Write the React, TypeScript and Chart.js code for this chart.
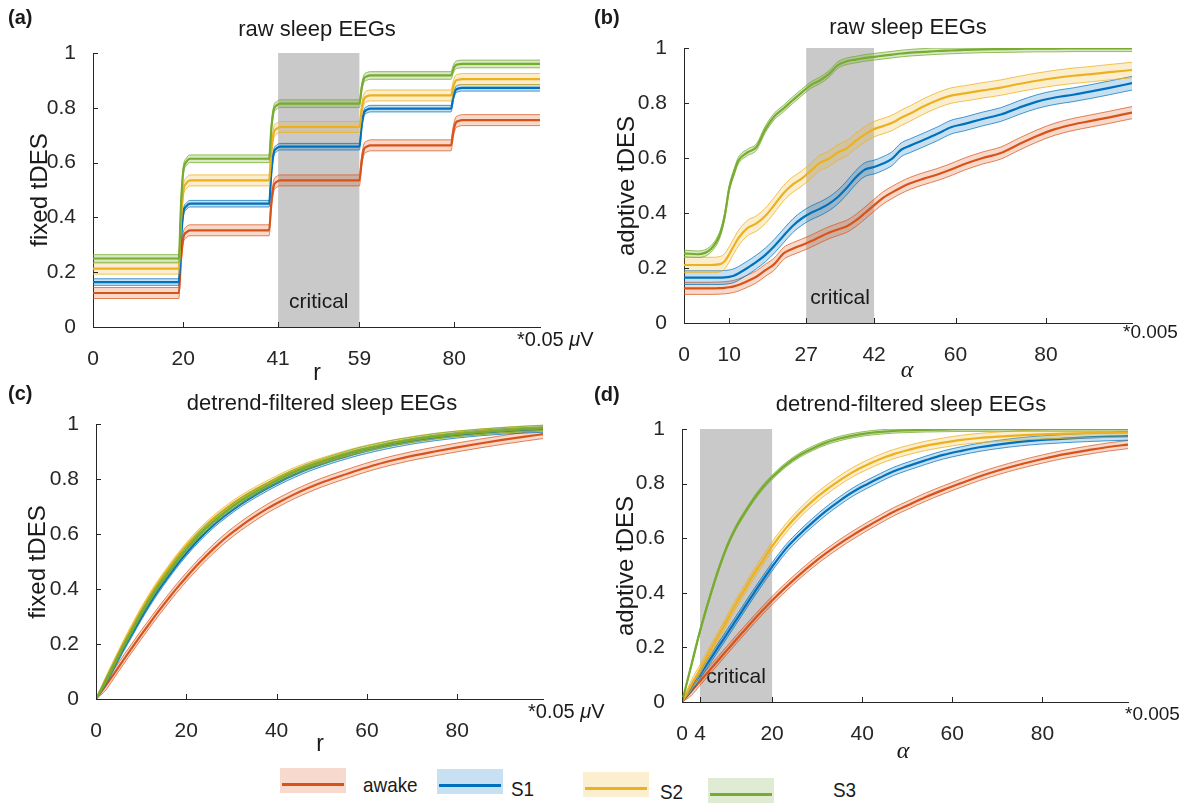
import React, { useEffect, useRef } from "react";
import { Chart, registerables } from "chart.js";

Chart.register(...registerables);

const FONT = '"Liberation Sans", Arial, Helvetica, sans-serif';
const SERIF = '"Liberation Serif", "Times New Roman", serif';
const AXIS_COLOR = "#262626";

const GROUP_NAMES = ["awake", "S1", "S2", "S3"];
const LINE_COLORS = ["#D95319", "#0072BD", "#EDB120", "#77AC30"];
const BAND_LINE_COLORS = ["rgba(217,83,25,0.8)", "rgba(0,114,189,0.8)", "rgba(237,177,32,0.85)", "rgba(119,172,48,0.85)"];
const FILL_COLORS = ["rgba(217,83,25,0.22)", "rgba(0,114,189,0.22)", "rgba(237,177,32,0.22)", "rgba(119,172,48,0.28)"];
const LEGEND_FILLS = ["#f7dacd", "#c8e1f2", "#fcefd0", "#dfebd2"];

const Y_TICKS = [0, 0.2, 0.4, 0.6, 0.8, 1];

// ---------- (a) raw sleep EEGs, fixed tDES vs r ----------
const A_X = [0, 19, 19.5, 20, 20.7, 21.5, 39, 39.5, 40, 40.7, 41.5, 59, 59.5, 60, 60.7, 61.5, 79.3, 79.8, 80.3, 81, 81.8, 99];
const A_AWAKE = [0.124, 0.124, 0.25, 0.326, 0.346, 0.353, 0.353, 0.453, 0.513, 0.53, 0.535, 0.535, 0.605, 0.648, 0.659, 0.663, 0.663, 0.714, 0.744, 0.752, 0.755, 0.755];
const A_S1 = [0.164, 0.164, 0.321, 0.416, 0.441, 0.45, 0.45, 0.564, 0.633, 0.652, 0.658, 0.658, 0.734, 0.78, 0.793, 0.797, 0.797, 0.839, 0.864, 0.871, 0.873, 0.873];
const A_S2 = [0.213, 0.213, 0.39, 0.496, 0.525, 0.535, 0.535, 0.642, 0.707, 0.724, 0.73, 0.73, 0.793, 0.831, 0.842, 0.845, 0.845, 0.878, 0.898, 0.903, 0.905, 0.905];
const A_S3 = [0.25, 0.25, 0.45, 0.57, 0.603, 0.614, 0.614, 0.725, 0.791, 0.809, 0.815, 0.815, 0.872, 0.906, 0.915, 0.918, 0.918, 0.941, 0.955, 0.959, 0.96, 0.96];
const A_BANDS = [0.02, 0.012, 0.02, 0.014];
const A_XTICKS = [0, 20, 41, 59, 80];
const A_CRITICAL = [41, 59];

// ---------- (b) raw sleep EEGs, adaptive tDES vs alpha ----------
const B_X = [0, 3, 6, 8, 9, 10, 11, 12, 14, 16, 18, 20, 22, 24, 26, 28, 30, 32, 34, 36, 38, 40, 42, 44, 46, 48, 50, 53, 56, 59, 62, 66, 70, 74, 78, 82, 86, 90, 94, 99];
const B_AWAKE = [0.126, 0.126, 0.126, 0.127, 0.128, 0.13, 0.133, 0.138, 0.152, 0.168, 0.192, 0.215, 0.253, 0.27, 0.283, 0.297, 0.313, 0.328, 0.34, 0.352, 0.373, 0.4, 0.428, 0.455, 0.475, 0.493, 0.508, 0.525, 0.54, 0.558, 0.578, 0.6, 0.618, 0.65, 0.68, 0.705, 0.722, 0.735, 0.748, 0.765];
const B_S1 = [0.165, 0.165, 0.165, 0.165, 0.166, 0.168, 0.172, 0.18, 0.2, 0.222, 0.248, 0.28, 0.317, 0.353, 0.38, 0.4, 0.415, 0.433, 0.458, 0.492, 0.53, 0.558, 0.567, 0.58, 0.598, 0.63, 0.645, 0.666, 0.688, 0.712, 0.724, 0.742, 0.758, 0.783, 0.805, 0.82, 0.83, 0.842, 0.855, 0.872];
const B_S2 = [0.211, 0.211, 0.211, 0.214, 0.225, 0.25, 0.28, 0.308, 0.345, 0.362, 0.39, 0.43, 0.472, 0.503, 0.525, 0.553, 0.582, 0.597, 0.62, 0.636, 0.663, 0.686, 0.705, 0.716, 0.728, 0.746, 0.762, 0.788, 0.81, 0.827, 0.835, 0.846, 0.856, 0.869, 0.881, 0.891, 0.899, 0.905, 0.912, 0.92];
const B_S3 = [0.253, 0.25, 0.27, 0.325, 0.39, 0.49, 0.545, 0.59, 0.62, 0.64, 0.705, 0.752, 0.78, 0.81, 0.838, 0.865, 0.882, 0.905, 0.938, 0.952, 0.958, 0.964, 0.968, 0.972, 0.976, 0.98, 0.983, 0.986, 0.989, 0.991, 0.993, 0.995, 0.996, 0.997, 0.998, 0.998, 0.999, 0.999, 0.999, 0.999];
const B_BANDS = [0.022, 0.025, 0.028, 0.012];
const B_XTICKS = [0, 10, 27, 42, 60, 80];
const B_CRITICAL = [27, 42];

// ---------- (c) detrend-filtered, fixed tDES vs r ----------
const C_X = [0, 2, 4, 6, 8, 10, 12, 14, 16, 18, 20, 23, 26, 29, 32, 35, 38, 41, 44, 47, 50, 54, 58, 62, 66, 70, 75, 80, 85, 90, 95, 99];
const C_AWAKE = [0, 0.045, 0.092, 0.14, 0.187, 0.233, 0.278, 0.322, 0.364, 0.405, 0.443, 0.497, 0.546, 0.59, 0.628, 0.662, 0.693, 0.72, 0.745, 0.767, 0.787, 0.81, 0.832, 0.852, 0.869, 0.884, 0.9, 0.915, 0.929, 0.942, 0.954, 0.963];
const C_S1 = [0, 0.057, 0.118, 0.18, 0.238, 0.296, 0.35, 0.4, 0.446, 0.49, 0.53, 0.585, 0.632, 0.672, 0.708, 0.739, 0.767, 0.793, 0.816, 0.837, 0.855, 0.876, 0.895, 0.911, 0.925, 0.937, 0.949, 0.959, 0.967, 0.973, 0.977, 0.98];
const C_S2 = [0, 0.065, 0.133, 0.2, 0.263, 0.323, 0.378, 0.428, 0.474, 0.518, 0.558, 0.612, 0.657, 0.696, 0.73, 0.759, 0.785, 0.81, 0.832, 0.851, 0.867, 0.887, 0.905, 0.92, 0.933, 0.944, 0.956, 0.965, 0.972, 0.978, 0.983, 0.986];
const C_S3 = [0, 0.06, 0.125, 0.19, 0.25, 0.31, 0.365, 0.415, 0.46, 0.505, 0.545, 0.6, 0.645, 0.685, 0.72, 0.75, 0.777, 0.803, 0.826, 0.846, 0.863, 0.884, 0.903, 0.918, 0.932, 0.943, 0.955, 0.964, 0.971, 0.977, 0.982, 0.985];
const C_BANDS = [0.016, 0.01, 0.01, 0.01];
const C_XTICKS = [0, 20, 40, 60, 80];

// ---------- (d) detrend-filtered, adaptive tDES vs alpha ----------
const D_X = [0, 2, 4, 6, 8, 10, 12, 14, 16, 18, 20, 23, 26, 29, 32, 35, 38, 41, 44, 47, 50, 54, 58, 62, 66, 70, 75, 80, 85, 90, 95, 99];
const D_AWAKE = [0, 0.038, 0.076, 0.114, 0.152, 0.19, 0.228, 0.265, 0.302, 0.338, 0.372, 0.42, 0.465, 0.507, 0.545, 0.58, 0.612, 0.642, 0.67, 0.697, 0.72, 0.75, 0.777, 0.802, 0.826, 0.847, 0.87, 0.89, 0.908, 0.922, 0.935, 0.943];
const D_S1 = [0, 0.05, 0.1, 0.15, 0.2, 0.25, 0.3, 0.35, 0.4, 0.448, 0.495, 0.56, 0.612, 0.658, 0.7, 0.737, 0.77, 0.797, 0.822, 0.845, 0.863, 0.885, 0.905, 0.92, 0.933, 0.943, 0.953, 0.96, 0.965, 0.969, 0.972, 0.974];
const D_S2 = [0, 0.06, 0.12, 0.18, 0.24, 0.3, 0.36, 0.415, 0.47, 0.52, 0.57, 0.635, 0.69, 0.737, 0.777, 0.812, 0.843, 0.868, 0.89, 0.908, 0.922, 0.938, 0.95, 0.96, 0.967, 0.972, 0.977, 0.98, 0.983, 0.985, 0.986, 0.987];
const D_S3 = [0, 0.13, 0.26, 0.375, 0.48, 0.57, 0.64, 0.695, 0.745, 0.788, 0.823, 0.868, 0.903, 0.929, 0.95, 0.965, 0.976, 0.984, 0.989, 0.993, 0.995, 0.997, 0.998, 0.999, 0.999, 1, 1, 1, 1, 1, 1, 1];
const D_BANDS = [0.015, 0.015, 0.017, 0.008];
const D_XTICKS = [0, 4, 20, 40, 60, 80];
const D_CRITICAL = [4, 20];

type Run = { t: string; italic?: boolean };
type TextItem = {
  runs: Run[];
  x: number;
  y: number;
  size: number;
  bold?: boolean;
  serif?: boolean;
  align?: "left" | "center";
  rotate?: boolean;
};

type Panel = {
  box: { left: number; top: number; w: number; h: number };
  area: { l: number; t: number; r: number; b: number };
  xs: number[];
  series: number[][];
  bands: number[];
  xTicks: number[];
  critical?: number[];
  texts: TextItem[];
};

const PANELS: Panel[] = [
  {
    box: { left: 0, top: 0, w: 620, h: 392 },
    area: { l: 93, t: 53, r: 540, b: 327 },
    xs: A_X,
    series: [A_AWAKE, A_S1, A_S2, A_S3],
    bands: A_BANDS,
    xTicks: A_XTICKS,
    critical: A_CRITICAL,
    texts: [
      { runs: [{ t: "(a)" }], x: 8, y: 18, size: 20, bold: true, align: "left" },
      { runs: [{ t: "raw sleep EEGs" }], x: 317, y: 30, size: 22 },
      { runs: [{ t: "fixed tDES" }], x: 40, y: 190, size: 24, rotate: true },
      { runs: [{ t: "r" }], x: 317, y: 374, size: 23 },
      { runs: [{ t: "*0.05 " }, { t: "μ", italic: true }, { t: "V" }], x: 517, y: 340, size: 20, align: "left" },
    ],
  },
  {
    box: { left: 580, top: 0, w: 606, h: 392 },
    area: { l: 684, t: 48, r: 1132, b: 323 },
    xs: B_X,
    series: [B_AWAKE, B_S1, B_S2, B_S3],
    bands: B_BANDS,
    xTicks: B_XTICKS,
    critical: B_CRITICAL,
    texts: [
      { runs: [{ t: "(b)" }], x: 594, y: 18, size: 20, bold: true, align: "left" },
      { runs: [{ t: "raw sleep EEGs" }], x: 908, y: 28, size: 22 },
      { runs: [{ t: "adptive tDES" }], x: 627, y: 186, size: 24, rotate: true },
      { runs: [{ t: "α", italic: true }], x: 907, y: 371, size: 24, serif: true },
      { runs: [{ t: "*0.005" }], x: 1123, y: 333, size: 19, align: "left" },
    ],
  },
  {
    box: { left: 0, top: 380, w: 620, h: 385 },
    area: { l: 96, t: 424, r: 543, b: 699 },
    xs: C_X,
    series: [C_AWAKE, C_S1, C_S2, C_S3],
    bands: C_BANDS,
    xTicks: C_XTICKS,
    texts: [
      { runs: [{ t: "(c)" }], x: 8, y: 394, size: 20, bold: true, align: "left" },
      { runs: [{ t: "detrend-filtered sleep EEGs" }], x: 322, y: 404, size: 22 },
      { runs: [{ t: "fixed tDES" }], x: 38, y: 562, size: 24, rotate: true },
      { runs: [{ t: "r" }], x: 320, y: 745, size: 23 },
      { runs: [{ t: "*0.05 " }, { t: "μ", italic: true }, { t: "V" }], x: 528, y: 712, size: 20, align: "left" },
    ],
  },
  {
    box: { left: 580, top: 380, w: 606, h: 385 },
    area: { l: 682, t: 429, r: 1128, b: 702 },
    xs: D_X,
    series: [D_AWAKE, D_S1, D_S2, D_S3],
    bands: D_BANDS,
    xTicks: D_XTICKS,
    critical: D_CRITICAL,
    texts: [
      { runs: [{ t: "(d)" }], x: 594, y: 395, size: 20, bold: true, align: "left" },
      { runs: [{ t: "detrend-filtered sleep EEGs" }], x: 911, y: 405, size: 22 },
      { runs: [{ t: "adptive tDES" }], x: 626, y: 566, size: 24, rotate: true },
      { runs: [{ t: "α", italic: true }], x: 903, y: 752, size: 24, serif: true },
      { runs: [{ t: "*0.005" }], x: 1125, y: 715, size: 19, align: "left" },
    ],
  },
];

function fontOf(size: number, bold?: boolean, italic?: boolean, serif?: boolean) {
  return `${italic ? "italic " : ""}${bold ? "bold " : ""}${size}px ${serif ? SERIF : FONT}`;
}

function drawTextItem(ctx: CanvasRenderingContext2D, item: TextItem, ox: number, oy: number) {
  ctx.save();
  ctx.fillStyle = "#1a1a1a";
  ctx.textBaseline = "middle";
  ctx.textAlign = "left";
  let total = 0;
  for (const r of item.runs) {
    ctx.font = fontOf(item.size, item.bold, r.italic, item.serif);
    total += ctx.measureText(r.t).width;
  }
  ctx.translate(item.x - ox, item.y - oy);
  if (item.rotate) ctx.rotate(-Math.PI / 2);
  let cx = item.align === "left" ? 0 : -total / 2;
  for (const r of item.runs) {
    ctx.font = fontOf(item.size, item.bold, r.italic, item.serif);
    ctx.fillText(r.t, cx, 0);
    cx += ctx.measureText(r.t).width;
  }
  ctx.restore();
}

function buildDatasets(p: Panel) {
  const ds: any[] = [];
  p.series.forEach((m, g) => {
    const hw = p.bands[g];
    const up = p.xs.map((x, i) => ({ x, y: Math.min(1, m[i] + Math.min(hw, m[i] * 0.5)) }));
    const lo = p.xs.map((x, i) => ({ x, y: Math.max(0, m[i] - Math.min(hw, m[i] * 0.5)) }));
    const mean = p.xs.map((x, i) => ({ x, y: m[i] }));
    const base = 100 - g * 3;
    ds.push({
      label: GROUP_NAMES[g] + " upper",
      data: up,
      borderColor: BAND_LINE_COLORS[g],
      borderWidth: 0.9,
      backgroundColor: FILL_COLORS[g],
      fill: "+1",
      order: base,
    });
    ds.push({
      label: GROUP_NAMES[g] + " lower",
      data: lo,
      borderColor: BAND_LINE_COLORS[g],
      borderWidth: 0.9,
      fill: false,
      order: base - 1,
    });
    ds.push({
      label: GROUP_NAMES[g],
      data: mean,
      borderColor: LINE_COLORS[g],
      borderWidth: 2.2,
      fill: false,
      order: base - 2,
    });
  });
  return ds;
}

function PanelChart({ p }: { p: Panel }) {
  const ref = useRef<HTMLCanvasElement | null>(null);
  useEffect(() => {
    const canvas = ref.current;
    if (!canvas) return;
    const { box, area } = p;
    const decor = {
      id: "decor",
      beforeDatasetsDraw(chart: any) {
        const { ctx, scales } = chart;
        const xs = scales.x;
        const ys = scales.y;
        if (p.critical) {
          const x0 = xs.getPixelForValue(p.critical[0]);
          const x1 = xs.getPixelForValue(p.critical[1]);
          const y0 = ys.getPixelForValue(1);
          const y1 = ys.getPixelForValue(0);
          ctx.save();
          ctx.fillStyle = "#c9c9c9";
          ctx.fillRect(x0, y0, x1 - x0, y1 - y0);
          ctx.fillStyle = "#1a1a1a";
          ctx.font = fontOf(21);
          ctx.textAlign = "center";
          ctx.textBaseline = "middle";
          ctx.fillText("critical", (x0 + x1) / 2, y1 - 25);
          ctx.restore();
        }
      },
      afterDraw(chart: any) {
        const { ctx, scales, chartArea } = chart;
        const xs = scales.x;
        const ys = scales.y;
        ctx.save();
        ctx.strokeStyle = AXIS_COLOR;
        ctx.lineWidth = 1;
        ctx.beginPath();
        xs.ticks.forEach((t: any) => {
          const px = Math.round(xs.getPixelForValue(t.value)) + 0.5;
          ctx.moveTo(px, chartArea.bottom);
          ctx.lineTo(px, chartArea.bottom - 5);
        });
        ys.ticks.forEach((t: any) => {
          const py = Math.round(ys.getPixelForValue(t.value)) + 0.5;
          ctx.moveTo(chartArea.left, py);
          ctx.lineTo(chartArea.left + 5, py);
        });
        ctx.stroke();
        ctx.restore();
        p.texts.forEach((t) => drawTextItem(ctx, t, box.left, box.top));
      },
    };
    const chart = new Chart(canvas, {
      type: "line",
      data: { datasets: buildDatasets(p) },
      options: {
        animation: false,
        responsive: false,
        devicePixelRatio: 1,
        layout: {
          padding: { left: 0, top: area.t - box.top, right: box.left + box.w - area.r, bottom: 0 },
        },
        elements: {
          point: { radius: 0 },
          line: { cubicInterpolationMode: "monotone" },
        },
        plugins: {
          legend: { display: false },
          tooltip: { enabled: false },
          title: { display: false },
        },
        scales: {
          x: {
            type: "linear",
            min: 0,
            max: 99,
            grid: { display: false },
            border: { display: true, color: AXIS_COLOR, width: 1 },
            ticks: {
              autoSkip: false,
              maxRotation: 0,
              padding: 12,
              color: AXIS_COLOR,
              font: { family: FONT, size: 21 },
              callback: (v: any) => String(v),
            },
            afterBuildTicks: (s: any) => {
              s.ticks = p.xTicks.map((v) => ({ value: v }));
            },
            afterFit: (s: any) => {
              s.height = box.top + box.h - area.b;
            },
          },
          y: {
            type: "linear",
            min: 0,
            max: 1,
            grid: { display: false },
            border: { display: true, color: AXIS_COLOR, width: 1 },
            ticks: {
              padding: 9,
              color: AXIS_COLOR,
              font: { family: FONT, size: 21 },
              callback: (v: any) => String(v),
            },
            afterBuildTicks: (s: any) => {
              s.ticks = Y_TICKS.map((v) => ({ value: v }));
            },
            afterFit: (s: any) => {
              s.width = area.l - box.left;
            },
          },
        },
      } as any,
      plugins: [decor],
    });
    return () => chart.destroy();
  }, [p]);
  return (
    <canvas
      ref={ref}
      width={p.box.w}
      height={p.box.h}
      style={{ position: "absolute", left: p.box.left, top: p.box.top, width: p.box.w, height: p.box.h }}
    />
  );
}

const LEGEND_ITEMS = [
  { box: [280, 768], text: [363, 785] },
  { box: [437, 769], text: [511, 789] },
  { box: [583, 772], text: [660, 792] },
  { box: [708, 778], text: [833, 790] },
];

export default function App() {
  return (
    <div style={{ position: "absolute", left: 0, top: 0, width: 1186, height: 810, background: "#fff", overflow: "hidden" }}>
      {PANELS.map((p, i) => (
        <PanelChart key={i} p={p} />
      ))}
      {LEGEND_ITEMS.map((it, g) => (
        <React.Fragment key={g}>
          <div
            style={{
              position: "absolute",
              left: it.box[0],
              top: it.box[1],
              width: 66,
              height: 25,
              background: LEGEND_FILLS[g],
            }}
          >
            <div
              style={{
                position: "absolute",
                left: 2,
                right: 2,
                top: 15,
                height: 3,
                background: LINE_COLORS[g],
              }}
            />
          </div>
          <div
            style={{
              position: "absolute",
              left: it.text[0],
              top: it.text[1] - 13,
              fontFamily: FONT,
              fontSize: 21,
              lineHeight: "26px",
              color: "#1a1a1a",
              transform: "scaleX(0.9)",
              transformOrigin: "left center",
            }}
          >
            {GROUP_NAMES[g]}
          </div>
        </React.Fragment>
      ))}
    </div>
  );
}
